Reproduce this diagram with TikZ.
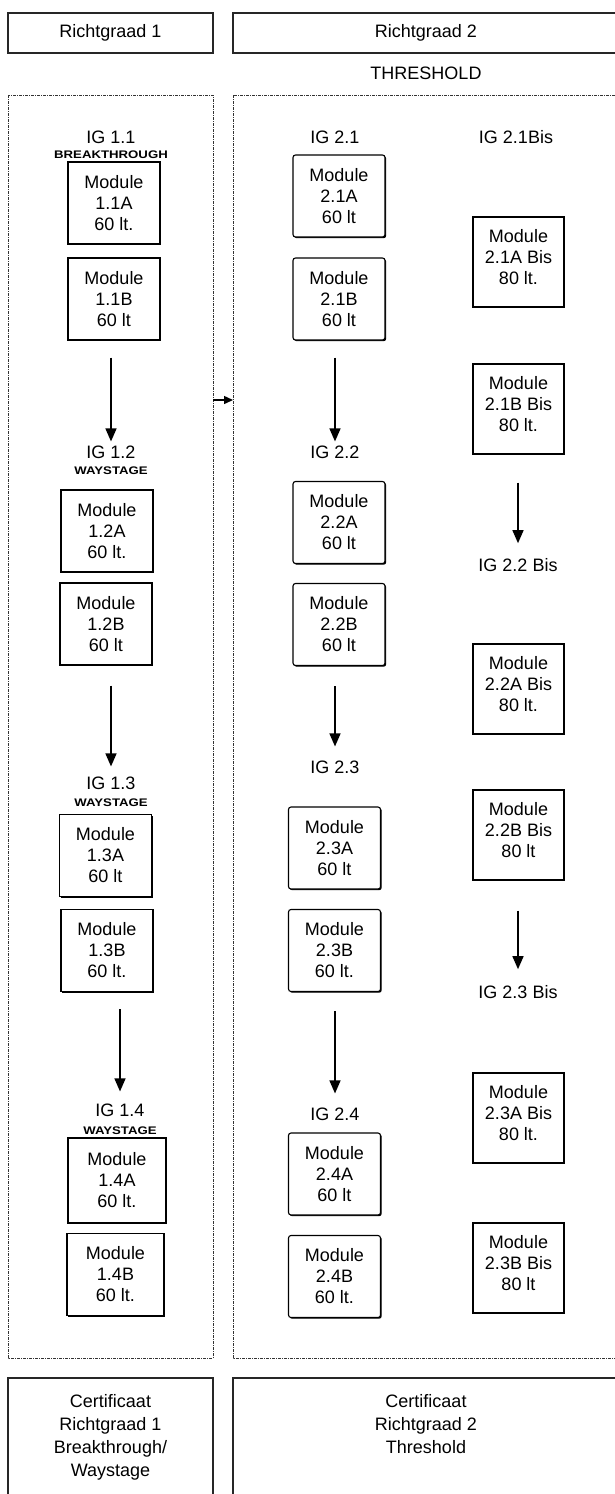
\documentclass[tikz,border=0pt]{standalone}
\usepackage{fontspec}
\setmainfont{Liberation Sans}
\usetikzlibrary{arrows.meta}
\usetikzlibrary{shadows}

\tikzset{
  modbox/.style={draw, line width=1.1pt, fill=white, align=center, inner sep=0pt,
    minimum width=92pt, minimum height=82pt, font=\fontsize{18}{21}\selectfont,
    drop shadow={shadow xshift=1.2pt, shadow yshift=-1.2pt, fill=black, opacity=1}},
  modround/.style={modbox, rounded corners=2.5pt},
  bisbox/.style={modbox, minimum width=91pt, minimum height=90pt, text depth=10pt},
  iglabel/.style={inner sep=0pt, font=\fontsize{18}{21}\selectfont},
  stagelabel/.style={inner sep=0pt, font=\fontsize{11}{12}\selectfont\bfseries},
  hdrbox/.style={draw=black!85, line width=1.6pt, inner sep=0pt, font=\fontsize{18}{21}\selectfont},
  frame/.style={draw=black!80, line width=0.8pt, dash pattern=on 3pt off 1pt on 1pt off 1pt},
  arr/.style={-{Triangle[length=13pt,width=11pt]}, line width=1.4pt},
}

\begin{document}
\begin{tikzpicture}[x=1pt,y=-1pt]
\useasboundingbox (0,0) rectangle (615,1494);
\clip (0,0) rectangle (615,1494);

% headers
\node[hdrbox, minimum width=205pt, minimum height=40pt] (rg1) at (110.5,33) {Richtgraad 1};
\node[hdrbox, minimum width=386pt, minimum height=40pt] (rg2) at (426,33) {Richtgraad 2};
\node[iglabel] (thr) at (426,73) {THRESHOLD};

% dashed frames
\draw[frame] (8,95) rectangle (213,1358);
\draw[frame] (233,95) rectangle (625,1358);
\coordinate (gateL) at (213,400);
\coordinate (gateR) at (233,400);
\draw[-{Triangle[length=9pt,width=8pt]}, line width=1.4pt] (gateL) -- (gateR);

% Richtgraad 1
\node[iglabel] (ig11) at (111,137) {IG 1.1};
\node[stagelabel] (bt11) at (111,155) {\scalebox{1.2}[1]{BREAKTHROUGH}};
\node[modbox] (m11a) at (114,203) {Module\\1.1A\\60 lt.};
\node[modbox] (m11b) at (114,299) {Module\\1.1B\\60 lt};
\node[iglabel] (ig12) at (111,452) {IG 1.2};
\node[stagelabel] (ws12) at (111,471) {\scalebox{1.2}[1]{WAYSTAGE}};
\node[modbox] (m12a) at (107,531) {Module\\1.2A\\60 lt.};
\node[modbox] (m12b) at (106,624) {Module\\1.2B\\60 lt};
\node[iglabel] (ig13) at (111,783) {IG 1.3};
\node[stagelabel] (ws13) at (111,803) {\scalebox{1.2}[1]{WAYSTAGE}};
\node[modbox] (m13a) at (105.5,855.5) {Module\\1.3A\\60 lt};
\node[modbox] (m13b) at (107,950.5) {Module\\1.3B\\60 lt.};
\node[iglabel] (ig14) at (120,1110) {IG 1.4};
\node[stagelabel] (ws14) at (120,1131) {\scalebox{1.2}[1]{WAYSTAGE}};
\node[modbox, minimum width=98pt, minimum height=85pt] (m14a) at (117,1180.5) {Module\\1.4A\\60 lt.};
\node[modbox, minimum width=97pt] (m14b) at (115.5,1274.5) {Module\\1.4B\\60 lt.};

\draw[arr, shorten <=17pt, shorten >=4pt] (ig12.north |- m11b.south) -- (ig12.north);
\draw[arr, shorten <=20pt, shorten >=10pt] (ig13.north |- m12b.south) -- (ig13.north);
\draw[arr, shorten <=17pt, shorten >=12pt] (ig14.north |- m13b.south) -- (ig14.north);

% Richtgraad 2
\node[iglabel] (ig21) at (335,137) {IG 2.1};
\node[modround] (m21a) at (339,196) {Module\\2.1A\\60 lt};
\node[modround] (m21b) at (339,299) {Module\\2.1B\\60 lt};
\node[iglabel] (ig22) at (335,452) {IG 2.2};
\node[modround] (m22a) at (339,522.5) {Module\\2.2A\\60 lt};
\node[modround] (m22b) at (339,624.5) {Module\\2.2B\\60 lt};
\node[iglabel] (ig23) at (335,767) {IG 2.3};
\node[modround] (m23a) at (334.5,848) {Module\\2.3A\\60 lt};
\node[modround] (m23b) at (334.5,950.5) {Module\\2.3B\\60 lt.};
\node[iglabel] (ig24) at (335,1114) {IG 2.4};
\node[modround] (m24a) at (334.5,1174) {Module\\2.4A\\60 lt};
\node[modround] (m24b) at (334.5,1276.5) {Module\\2.4B\\60 lt.};

\draw[arr, shorten <=17pt, shorten >=4pt] (ig22.north |- m21b.south) -- (ig22.north);
\draw[arr, shorten <=20pt, shorten >=14pt] (ig23.north |- m22b.south) -- (ig23.north);
\draw[arr, shorten <=19pt, shorten >=14pt] (ig24.north |- m23b.south) -- (ig24.north);

% Bis
\node[iglabel] (ig21b) at (516,137) {IG 2.1Bis};
\node[bisbox] (mb21a) at (518.5,262) {Module\\2.1A Bis\\80 lt.};
\node[bisbox] (mb21b) at (518.5,409) {Module\\2.1B Bis\\80 lt.};
\node[iglabel] (ig22b) at (518,565) {IG 2.2 Bis};
\node[bisbox] (mb22a) at (518.5,689) {Module\\2.2A Bis\\80 lt.};
\node[bisbox] (mb22b) at (518.5,835) {Module\\2.2B Bis\\80 lt};
\node[iglabel] (ig23b) at (518,992) {IG 2.3 Bis};
\node[bisbox] (mb23a) at (518.5,1118) {Module\\2.3A Bis\\80 lt.};
\node[bisbox] (mb23b) at (518.5,1268) {Module\\2.3B Bis\\80 lt};

\draw[arr, shorten <=28pt, shorten >=15pt] (ig22b.north |- mb21b.south) -- (ig22b.north);
\draw[arr, shorten <=30pt, shorten >=16pt] (ig23b.north |- mb22b.south) -- (ig23b.north);

% certificates
\draw[draw=black!85, line width=1.6pt] (8,1378) rectangle (213,1520);
\draw[draw=black!85, line width=1.6pt] (233,1378) rectangle (619,1520);
\node[iglabel, align=center, anchor=north, font=\fontsize{18}{23}\selectfont] (cert1) at (110.5,1394) {Certificaat\\Richtgraad 1\\Breakthrough/\\Waystage};
\node[iglabel, align=center, anchor=north, font=\fontsize{18}{23}\selectfont] (cert2) at (426,1394) {Certificaat\\Richtgraad 2\\Threshold};
\end{tikzpicture}
\end{document}
